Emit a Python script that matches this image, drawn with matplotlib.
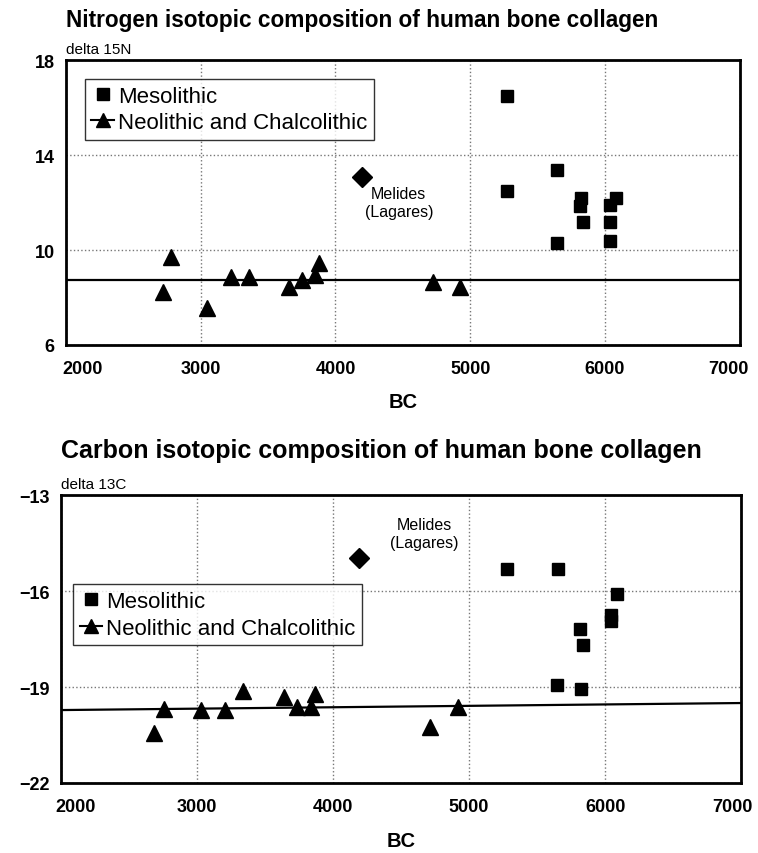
import matplotlib
matplotlib.use("Agg")
import matplotlib.pyplot as plt
import matplotlib.transforms as mtransforms
from matplotlib.lines import Line2D

plt.rcParams['font.family'] = ['Liberation Sans', 'DejaVu Sans']

# Nitrogen (delta 15N)
n_meso_x = [5274, 5276, 5647, 5647, 5821, 5811, 5835, 6036, 6085, 6038, 6038]
n_meso_y = [16.5, 12.5, 13.4, 10.3, 12.2, 11.85, 11.2, 11.9, 12.2, 11.2, 10.4]
n_neo_x = [2717, 2781, 3048, 3222, 3355, 3652, 3748, 3850, 3877, 4725, 4923]
n_neo_y = [8.25, 9.7, 7.55, 8.85, 8.85, 8.45, 8.75, 8.95, 9.45, 8.65, 8.45]
n_mel = (4193, 13.1)
n_fit = [8.72, 8.72]

# Carbon (delta 13C)
c_meso_x = [5279, 5653, 6090, 6041, 6041, 5815, 5835, 5643, 5820]
c_meso_y = [-15.3, -15.3, -16.1, -16.75, -16.95, -17.2, -17.7, -18.95, -19.05]
c_neo_x = [2688, 2762, 3032, 3204, 3341, 3639, 3739, 3838, 3872, 4715, 4918]
c_neo_y = [-20.45, -19.7, -19.72, -19.72, -19.12, -19.3, -19.62, -19.62, -19.22, -20.25, -19.62]
c_mel = (4194, -14.95)
c_fit = [-19.72, -19.5]

fit_x = [2000, 7000]
xticks = [2000, 3000, 4000, 5000, 6000, 7000]


def draw_panel(ax, meso_x, meso_y, neo_x, neo_y, mel, fit, ylim, yticks,
               title, title_fs, title_y, ylab, mel_txt_xy, leg_loc, end_shift):
    ax.plot(fit_x, fit, color='black', lw=1.6, zorder=2)
    ax.plot(meso_x, meso_y, 's', color='black', ms=8.5, zorder=3)
    ax.plot(neo_x, neo_y, '^', color='black', ms=11, zorder=3)
    ax.plot(mel[0], mel[1], 'D', color='black', ms=10, zorder=3)
    ax.text(mel_txt_xy[0], mel_txt_xy[1], "Melides\n(Lagares)", ha='center',
            va='center', fontsize=11.5, linespacing=1.2)

    ax.set_xlim(2000, 7000)
    ax.set_ylim(*ylim)
    ax.set_xticks(xticks)
    ax.set_yticks(yticks)
    ax.set_xticklabels([str(t) for t in xticks], fontweight='bold', fontsize=13)
    ax.set_yticklabels([str(t).replace('-', '\u2212') for t in yticks],
                       fontweight='bold', fontsize=13)
    ax.tick_params(length=0, pad=8)
    ax.tick_params(axis='x', pad=11)
    # pull the end labels inward a little, as in the original
    labels = ax.get_xticklabels()
    fig = ax.figure
    for lab, dx in ((labels[0], end_shift[0]), (labels[-1], end_shift[1])):
        off = mtransforms.ScaledTranslation(dx / 100, 0, fig.dpi_scale_trans)
        lab.set_transform(lab.get_transform() + off)

    ax.grid(True, color='#777777', linestyle=':', lw=1)
    for s in ax.spines.values():
        s.set_linewidth(2)
        s.set_color('black')

    ax.set_xlabel("BC", fontweight='bold', fontsize=14.5, labelpad=11)
    ax.text(0.0, 1.015, ylab, transform=ax.transAxes, fontsize=11, va='bottom')
    ax.text(0.0, title_y, title, transform=ax.transAxes, fontsize=title_fs,
            fontweight='bold', va='bottom')

    handles = [
        Line2D([], [], marker='s', color='black', ls='none', ms=8),
        Line2D([], [], marker='^', color='black', ls='-', lw=1.5, ms=10),
    ]
    leg = ax.legend(handles, ["Mesolithic", "Neolithic and Chalcolithic"],
                    loc='upper left', bbox_to_anchor=leg_loc, fontsize=16,
                    frameon=True, fancybox=False, handlelength=1.0,
                    handletextpad=0.2, borderpad=0.3, labelspacing=0.25,
                    borderaxespad=0)
    leg.get_frame().set_edgecolor('black')
    leg.get_frame().set_linewidth(1.0)


fig = plt.figure(figsize=(7.58, 8.54), dpi=100)
ax1 = fig.add_axes([0.087, 0.595, 0.889, 0.333])
ax2 = fig.add_axes([0.080, 0.082, 0.898, 0.337])

draw_panel(ax1, n_meso_x, n_meso_y, n_neo_x, n_neo_y, n_mel, n_fit,
           (6, 18), [6, 10, 14, 18],
           "Nitrogen isotopic composition of human bone collagen", 16.3, 1.105,
           "delta 15N", (4470, 12.0), (0.028, 0.935), (17, -11))
draw_panel(ax2, c_meso_x, c_meso_y, c_neo_x, c_neo_y, c_mel, c_fit,
           (-22, -13), [-22, -19, -16, -13],
           "Carbon isotopic composition of human bone collagen", 18, 1.115,
           "delta 13C", (4670, -14.2), (0.018, 0.69), (15, -9))

fig.savefig("out.png", dpi=100)
